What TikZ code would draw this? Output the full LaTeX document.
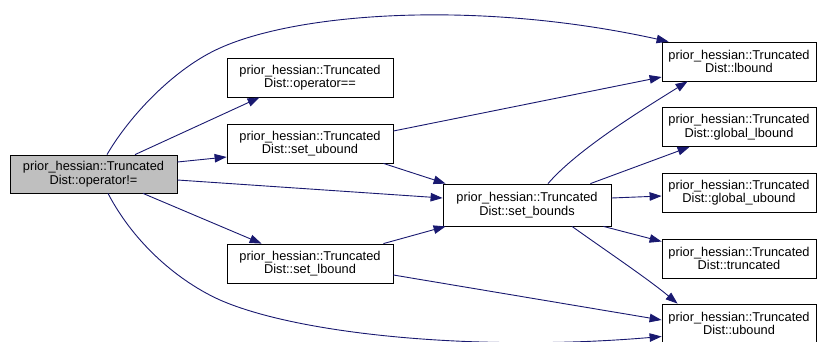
\documentclass[tikz,border=0pt]{standalone}
\usepackage{fontspec}
\setmainfont{Liberation Sans}
\usetikzlibrary{arrows.meta}

\definecolor{edgeblue}{RGB}{25,25,112}
\definecolor{focusgray}{RGB}{191,191,191}

\tikzset{
    fn/.style={draw, rectangle, line width=0.8pt, minimum width=166pt, minimum height=39pt,
        inner sep=0pt, align=center, font=\fontsize{12.8}{13.6}\selectfont},
    call/.style={edgeblue, line width=0.9pt, -{Triangle[length=12pt,width=8.5pt]}},
}

\begin{document}
\begin{tikzpicture}[x=1pt, y=-1pt]
    \useasboundingbox (0,0) rectangle (817,341);
    \clip (0,0) rectangle (817,341);

    \node[fn, fill=focusgray, minimum width=167pt, minimum height=38pt] (ne) at (93.5,174) {prior\_hessian::Truncated\\Dist::operator!=};

    \node[fn] (eq) at (310,77.5) {prior\_hessian::Truncated\\Dist::operator==};
    \node[fn] (setub) at (310,143.5) {prior\_hessian::Truncated\\Dist::set\_ubound};
    \node[fn] (setlb) at (310,263.5) {prior\_hessian::Truncated\\Dist::set\_lbound};

    \node[fn, minimum width=168pt, minimum height=42pt] (setb) at (527,205) {prior\_hessian::Truncated\\Dist::set\_bounds};

    \node[fn, minimum width=154pt] (lb) at (739,61.5) {prior\_hessian::Truncated\\Dist::lbound};
    \node[fn, minimum width=154pt] (glb) at (739,127) {prior\_hessian::Truncated\\Dist::global\_lbound};
    \node[fn, minimum width=154pt] (gub) at (739,192.5) {prior\_hessian::Truncated\\Dist::global\_ubound};
    \node[fn, minimum width=154pt] (trunc) at (739,258.5) {prior\_hessian::Truncated\\Dist::truncated};
    \node[fn, minimum width=154pt] (ub) at (739,323.5) {prior\_hessian::Truncated\\Dist::ubound};

    \draw[call] ([xshift=13.5pt]ne.north) .. controls (130,115) and (175,68) .. (220,48)
        .. controls (300,12) and (480,0) .. ([xshift=7pt]lb.north west);
    \draw[call] ([xshift=41.5pt]ne.north) -- ([xshift=33pt]eq.south west);
    \draw[call] ([yshift=12pt]ne.east) -- ([yshift=-13.5pt]setub.west);
    \draw[call] ([yshift=-6pt]ne.east) -- ([yshift=7pt]setb.west);
    \draw[call] ([xshift=49.5pt]ne.south) -- ([xshift=35pt]setlb.north west);
    \draw[call] ([xshift=14.5pt]ne.south) .. controls (135,245) and (180,282) .. (220,300)
        .. controls (300,335) and (480,352) .. ([yshift=-13pt]ub.west);

    \draw[call] ([yshift=12.5pt]setub.east) -- ([yshift=-15.5pt]lb.west);
    \draw[call] ([xshift=-10pt]setub.south east) -- ([xshift=3pt]setb.north west);
    \draw[call] ([xshift=-10pt]setlb.north east) -- ([xshift=3pt]setb.south west);
    \draw[call] ([yshift=-11.5pt]setlb.east) -- ([yshift=3.5pt]ub.west);

    \draw[call] ([xshift=21pt]setb.north) .. controls +(30,-35) and +(-40,25) .. ([xshift=26pt]lb.south west);
    \draw[call] ([xshift=-21pt]setb.north east) -- ([xshift=28pt]glb.south west);
    \draw[call] ([yshift=7pt]setb.east) -- ([yshift=-3.5pt]gub.west);
    \draw[call] ([xshift=-8pt]setb.south east) -- ([yshift=17pt]trunc.west);
    \draw[call] ([xshift=45pt]setb.south) .. controls +(35,25) and +(-30,-25) .. ([xshift=16pt]ub.north west);
\end{tikzpicture}
\end{document}
